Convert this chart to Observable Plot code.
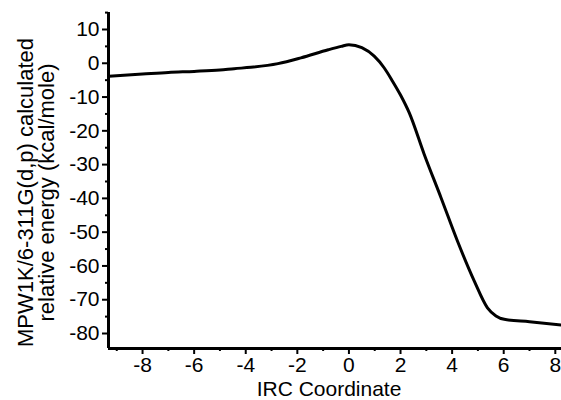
<!DOCTYPE html>
<html>
<head>
<meta charset="utf-8">
<script src="https://cdn.jsdelivr.net/npm/d3@7"></script>
<script src="https://cdn.jsdelivr.net/npm/@observablehq/plot@0.6"></script>
<style>
  body { margin: 0; background: #fff; }
  #chart svg { display: block; }
</style>
</head>
<body>
<div id="chart"></div>
<script>
const irc =    [-9.3, -8, -7, -6, -5, -4.45, -3.8, -2.75, -1.86, -0.8, -0.3, 0, 0.5, 0.98, 1.37, 1.69, 2.0, 2.34, 2.92, 3.57, 4.21, 4.86, 5.37, 5.7, 6.02, 7, 8.24];
const energy = [-3.85, -3.2, -2.7, -2.4, -2.0, -1.6, -1.2, -0.1, 1.6, 4.0, 5.0, 5.5, 4.6, 2.1, -1.4, -5.3, -9.4, -14.7, -27, -39.8, -52.7, -64.5, -72.4, -74.8, -75.8, -76.5, -77.5];
const xMajor = [-8, -6, -4, -2, 0, 2, 4, 6, 8];
const xMinor = [-9, -7, -5, -3, -1, 1, 3, 5, 7];
const yMajor = [10, 0, -10, -20, -30, -40, -50, -60, -70, -80];
const yMinor = [15, 5, -5, -15, -25, -35, -45, -55, -65, -75];
const xTitle = "IRC Coordinate";
const yTitle = ["MPW1K/6-311G(d,p) calculated", "relative energy (kcal/mole)"];

const xDomain = [-9.32, 8.24];
const yDomain = [-84.44, 15.03];
const data = irc.map((x, i) => ({x, y: energy[i]}));

const chart = Plot.plot({
  width: 561,
  height: 400,
  marginLeft: 108,
  marginRight: 0,
  marginTop: 12,
  marginBottom: 52,
  style: {fontFamily: "Liberation Sans, Arial, sans-serif", background: "#fff", color: "#000"},
  x: {domain: xDomain},
  y: {domain: yDomain},
  marks: [
    Plot.axisX({ticks: xMinor, tickSize: 3, strokeWidth: 2, text: null, label: null}),
    Plot.axisX({ticks: xMajor, tickSize: 6, strokeWidth: 2, tickPadding: 3, fontSize: 21, label: null, tickFormat: d => String(d)}),
    Plot.axisY({ticks: yMinor, tickSize: 3, strokeWidth: 2, text: null, label: null}),
    Plot.axisY({ticks: yMajor, tickSize: 6, strokeWidth: 2, tickPadding: 3, fontSize: 21, label: null, tickFormat: d => String(d)}),
    Plot.ruleX([xDomain[0]], {stroke: "#000", strokeWidth: 3}),
    Plot.ruleY([yDomain[0]], {stroke: "#000", strokeWidth: 3}),
    Plot.line(data, {x: "x", y: "y", stroke: "#000", strokeWidth: 3, curve: "monotone-x"}),
    Plot.text([xTitle], {frameAnchor: "bottom", dy: 41, dx: -6, fontSize: 21, lineAnchor: "middle", textAnchor: "middle"}),
    Plot.text([yTitle[0]], {frameAnchor: "left", rotate: -90, dx: -83, dy: 12, fontSize: 22, lineAnchor: "middle", textAnchor: "middle"}),
    Plot.text([yTitle[1]], {frameAnchor: "left", rotate: -90, dx: -62, dy: 12, fontSize: 22, lineAnchor: "middle", textAnchor: "middle"})
  ]
});
document.getElementById("chart").appendChild(chart);
</script>
</body>
</html>
